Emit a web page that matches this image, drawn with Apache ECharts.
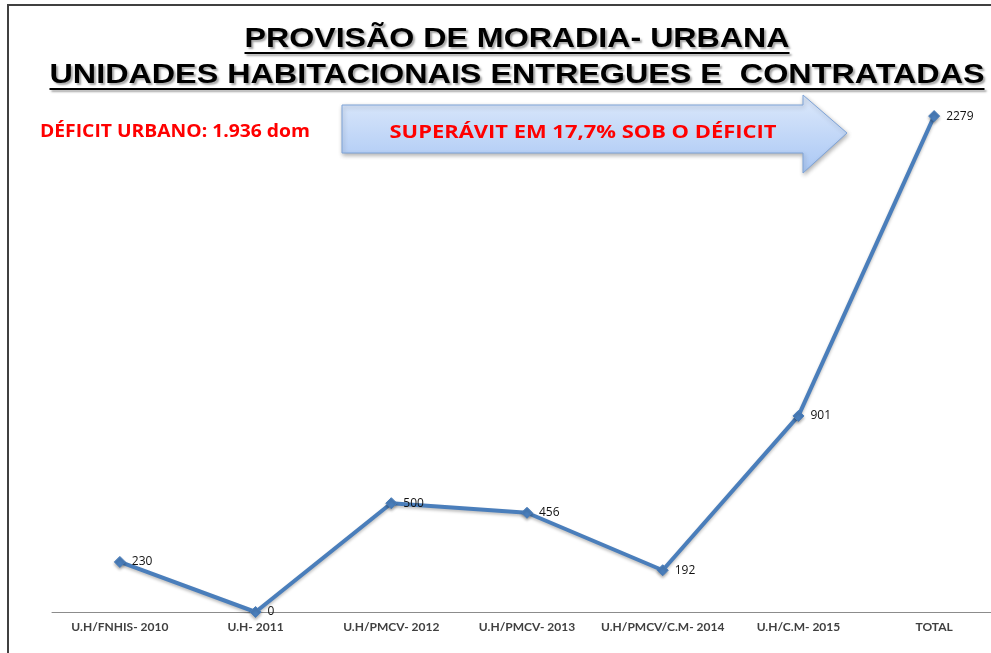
<!DOCTYPE html>
<html>
<head>
<meta charset="utf-8">
<script src="https://cdn.jsdelivr.net/npm/echarts@6/dist/echarts.min.js"></script>
<style>
  html, body { margin: 0; padding: 0; background: #fff; overflow: hidden; }
  #chart { width: 1002px; height: 653px; }
</style>
</head>
<body>
<div id="chart"></div>
<script>
// data
var categories = ['U.H/FNHIS- 2010', 'U.H- 2011', 'U.H/PMCV- 2012', 'U.H/PMCV- 2013', 'U.H/PMCV/C.M- 2014', 'U.H/C.M- 2015', 'TOTAL']
var unidades = [230, 0, 500, 456, 192, 901, 2279]
var titleLines = ['PROVISÃO DE MORADIA- URBANA', 'UNIDADES HABITACIONAIS ENTREGUES E  CONTRATADAS']
var deficitText = 'DÉFICIT URBANO: 1.936 dom'
var arrowText = 'SUPERÁVIT EM 17,7% SOB O DÉFICIT'

var titleFont = 'bold 28px "Liberation Sans", Arial, sans-serif'
var noteFont = 'bold 18px "Open Sans", Lato, sans-serif'
function textWidth (txt, font) {
  var ctx = document.createElement('canvas').getContext('2d')
  ctx.font = font
  return ctx.measureText(txt).width
}

// title: two underlined lines
var titleCenters = [[517, 39], [517, 75]]
var titleWidths = [545, 935]
var titleGraphics = []
titleLines.forEach(function (t, i) {
  var w = textWidth(t, titleFont)
  var sx = titleWidths[i] / w
  var cx = titleCenters[i][0]
  var cy = titleCenters[i][1]
  titleGraphics.push({
    type: 'text',
    x: cx,
    y: cy,
    scaleX: sx,
    style: {
      text: t,
      font: titleFont,
      fill: '#000',
      align: 'center',
      verticalAlign: 'middle',
      textShadowColor: 'rgba(0,0,0,0.35)',
      textShadowOffsetX: 2,
      textShadowOffsetY: 2,
      textShadowBlur: 2
    },
    z: 10
  })
  titleGraphics.push({
    type: 'rect',
    shape: { x: cx - titleWidths[i] / 2, y: cy + 13, width: titleWidths[i], height: 2 },
    style: { fill: '#000', shadowColor: 'rgba(0,0,0,0.35)', shadowOffsetX: 2, shadowOffsetY: 2, shadowBlur: 2 },
    z: 10
  })
})

var chartDom = document.getElementById('chart')
var myChart = echarts.init(chartDom)
var option = {
  backgroundColor: '#fff',
  animation: false,
  grid: {
    left: 52,
    right: 0,
    top: 68,
    bottom: 41
  },
  xAxis: {
    type: 'category',
    data: categories,
    boundaryGap: true,
    axisLine: { lineStyle: { color: '#8c8c8c', width: 1 } },
    axisTick: { show: false },
    axisLabel: {
      color: '#404040',
      fontSize: 12,
      fontWeight: 'bold',
      fontFamily: 'Lato, "Open Sans", sans-serif',
      margin: 9,
      interval: 0
    }
  },
  yAxis: {
    type: 'value',
    min: 0,
    max: 2500,
    show: false,
    splitLine: { show: false }
  },
  series: [
    {
      type: 'line',
      data: unidades,
      symbol: 'diamond',
      symbolSize: 11,
      lineStyle: {
        color: '#4a7ebb',
        width: 4,
        shadowColor: 'rgba(0,0,0,0.25)',
        shadowBlur: 3,
        shadowOffsetY: 2
      },
      itemStyle: {
        color: '#4a7ebb',
        borderColor: '#4a7ebb',
        shadowColor: 'rgba(0,0,0,0.3)',
        shadowBlur: 3,
        shadowOffsetY: 2
      },
      label: {
        show: true,
        position: 'right',
        distance: 6,
        color: '#111',
        fontSize: 12,
        fontFamily: '"Open Sans", Lato, sans-serif'
      },
      z: 3
    }
  ],
  graphic: titleGraphics.concat([
    // outer frame (top and left edges)
    {
      type: 'polyline',
      shape: { points: [[8, 660], [8, 5], [1010, 5]] },
      style: { stroke: '#404040', lineWidth: 2, fill: null },
      z: 20
    },
    {
      type: 'text',
      x: 40,
      y: 132,
      scaleX: 270 / textWidth(deficitText, noteFont),
      style: {
        text: deficitText,
        font: noteFont,
        fill: '#ff0000',
        verticalAlign: 'middle'
      }
    },
    {
      type: 'polygon',
      shape: {
        points: [[342, 105], [803, 105], [803, 95], [847, 133], [803, 173], [803, 153], [342, 153]]
      },
      style: {
        fill: new echarts.graphic.LinearGradient(0, 0, 0, 1, [
          { offset: 0, color: '#dde9fb' },
          { offset: 1, color: '#a9c7f4' }
        ]),
        stroke: '#7fa4d8',
        lineWidth: 1,
        shadowColor: 'rgba(0,0,0,0.3)',
        shadowBlur: 4,
        shadowOffsetX: 1,
        shadowOffsetY: 2
      },
      z: 5
    },
    {
      type: 'text',
      x: 583,
      y: 133,
      scaleX: 387 / textWidth(arrowText, noteFont),
      style: {
        text: arrowText,
        font: noteFont,
        fill: '#ff0000',
        align: 'center',
        verticalAlign: 'middle'
      },
      z: 6
    }
  ])
}

option && myChart.setOption(option)
</script>
</body>
</html>
